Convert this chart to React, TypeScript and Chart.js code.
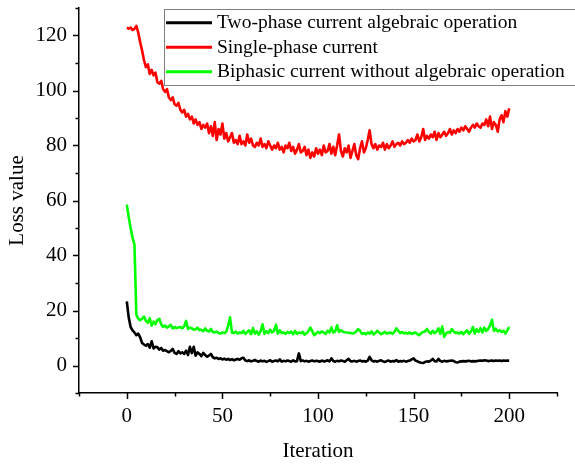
import React, { useEffect, useRef } from "react";
import { Chart, registerables } from "chart.js";

Chart.register(...registerables);

const iterations: number[] = Array.from({ length: 201 }, (_, i) => i);

const seriesNames = [
  "Two-phase current algebraic operation",
  "Single-phase current",
  "Biphasic current without algebraic operation",
];

const seriesColors = ["#000000", "#ff0000", "#00ff00"];

const twoPhaseAlgebraic: number[] = [
  23.3, 17.5, 14, 12.8, 12, 11, 11.6, 10.2, 8.2, 7.6,
  7.2, 7.8, 6.5, 8.8, 6.2, 6.8, 6.6, 5.8, 6.4, 5.4,
  5.6, 5.2, 4.8, 5.3, 6, 4.6, 4.2, 5.2, 4.4, 4.8,
  4.2, 5.4, 3.8, 6.8, 4.5, 6.8, 3.6, 4.8, 4.2, 3.4,
  4.6, 3.8, 3.2, 3.6, 4.2, 3, 2.6, 2.8, 2.4, 2.6,
  2.2, 2.5, 2.1, 2.4, 2, 2.3, 1.9, 2.2, 2.4, 2.1,
  2.6, 2.8, 1.8, 1.6, 1.9, 1.5, 1.7, 2, 1.6, 1.4,
  1.8, 1.5, 1.7, 1.3, 1.6, 1.9, 1.4, 1.6, 1.8, 1.5,
  2.2, 1.4, 1.7, 1.5, 1.8, 1.6, 1.4, 1.9, 1.5, 1.6,
  4.4, 1.6, 1.8, 1.5, 1.7, 1.4, 1.6, 1.8, 1.5, 1.7,
  1.6, 1.4, 1.8, 1.5, 1.6, 1.9, 1.5, 2.6, 1.6, 1.4,
  1.7, 1.5, 1.8, 1.6, 1.4, 1.9, 2.4, 1.6, 1.5, 1.7,
  1.4, 1.6, 1.8, 1.5, 1.6, 1.4, 1.8, 3.1, 1.9, 1.5,
  1.6, 1.4, 1.7, 1.9, 1.5, 1.3, 1.6, 1.8, 1.4, 1.6,
  1.5, 2, 1.4, 1.6, 1.5, 1.7, 1.4, 1.6, 1.8, 2.2,
  2.6, 1.8, 1.5, 1.2, 1, 0.9, 1.3, 1.5, 1.4, 1.8,
  2.4, 1.6, 1.5, 2.4, 1.6, 1.4, 1.7, 1.5, 1.6, 1.7,
  1.8, 1.6, 1.2, 1.1, 1.4, 1.5, 1.6, 1.5, 1.6, 1.7,
  1.5, 1.6, 1.5, 1.6, 1.7, 1.8, 1.7, 1.9, 1.8, 1.6,
  1.7, 1.8, 1.6, 1.8, 1.7, 1.8, 1.6, 1.8, 1.7, 1.8,
  1.7,
];

const singlePhase: number[] = [
  122.8, 122.5, 122.9, 122, 122.4, 123.5, 121, 117.5, 114.5, 111,
  108.5, 109.5, 106, 107.5, 105.5, 106.5, 103, 102.5, 103.5, 100.5,
  99.5, 100.5, 97.5, 96.5, 97.5, 95, 94.5, 95.5, 93, 92,
  93, 90.5, 91.5, 89.5, 90.5, 88, 89.5, 87.5, 88.5, 86,
  87.5, 86.5, 88, 84.5, 87, 83.5, 88.5, 82, 86, 84,
  88, 82.5, 84.5, 81.5, 83, 84.5, 81, 82, 80.5, 83.5,
  80.5, 81.5, 80, 84, 81, 82.5, 80, 79.5, 81, 80,
  82.5, 79.5, 80.5, 79, 81.5, 80, 78.5, 80, 79, 81,
  78.5, 79.5, 77.5, 80, 79, 81, 78, 79.5, 77, 78.5,
  80.5, 77.5, 78, 79.5, 76.5, 78.5, 75.5, 77.5, 76, 79,
  77, 78.5, 76.5, 80, 77.5, 78, 80.5, 77, 79.5, 76.5,
  80, 84, 78, 76, 79, 77.5, 80, 75.5, 78, 80.5,
  76.5, 75, 79, 81.5, 77.5, 79, 82, 85.5, 80.5, 79,
  80.5, 78.5, 80, 79.5, 81, 78.5, 80.5, 79, 80, 81.5,
  79.5, 80.5, 81, 80, 81.5, 80.5, 81, 82, 81, 82.5,
  81.5, 82, 84, 81.5, 83, 86, 82, 83.5, 82.5, 84,
  83, 85, 82, 84.5, 83, 84, 85, 83.5, 84.5, 86,
  84, 85.5, 84.5, 86, 85, 86.5, 85.5, 87, 86, 85,
  86.5, 87.5, 86.5, 88, 87, 86.5, 88, 87.5, 89.5, 87,
  90.5, 86, 88.5, 87.5, 85, 89.5, 91, 88.5, 92.5, 90.5,
  93.5,
];

const biphasicNoAlgebra: number[] = [
  58.5, 54, 50, 46.5, 44, 18.5, 17, 16.5, 17, 17.8,
  16.2, 15.5, 17.2, 14.5, 16, 15, 16.5, 17, 15, 14,
  14.5, 13.8, 14.2, 14.8, 13.5, 14, 13.6, 13.8, 14, 13.5,
  14.2, 16.2, 13.3, 13.8, 13.5, 13, 13.2, 13.8, 12.8, 13,
  12.5, 13.5, 12.6, 12.4, 13.3, 12.2, 12, 12.3, 11.8, 11.6,
  12, 11.8, 12.2, 14.5, 17.5, 12, 11.8, 12.3, 11.6, 12,
  11.8, 12.6, 11.5, 12.2, 12.8, 11.4, 13.6, 11.6, 12.4, 11.2,
  12.5, 15, 11.5, 12.5, 11.8, 13, 12, 12.6, 14.8, 11.6,
  12.8, 11.8, 12, 11.5, 12.2, 11.8, 12.3, 11.4, 12.6, 11.5,
  12, 11.8, 12.2, 11.2, 11.8, 12.5, 13.8, 12.5, 11, 11.6,
  12.2, 11.8, 12.4, 12, 11.5, 12.6, 12, 13.8, 12, 12.4,
  14.6, 12.2, 12.8, 12.3, 12.1, 12, 11.9, 11.8, 11.6, 11.8,
  12.4, 13.2, 12.6, 11.5, 11.8, 11.4, 12, 11.6, 12.4, 11.3,
  11.8, 12.6, 12, 11.4, 11.8, 12.2, 11.6, 11.8, 12, 11.5,
  12.2, 13.5, 12.6, 11.8, 12.2, 11.7, 11.9, 11.6, 12, 11.5,
  11.8, 12, 11.4, 11, 11.8, 12.2, 12.4, 13.3, 12.2, 11.6,
  12.6, 11.8, 12.3, 13.5, 11.5, 14.2, 10.4, 11.6, 12.2, 11.9,
  13.2, 12.4, 11.8, 12, 11.6, 12.2, 11.4, 12.2, 12.8, 11.5,
  12.4, 14, 11.6, 13.2, 12.2, 13.6, 12, 13.8, 12.6, 13.2,
  14.6, 16.6, 12.6, 13.4, 12.4, 12.8, 12.2, 12.6, 11.6, 12.8,
  14,
];

const xTickLabels = [0, 50, 100, 150, 200];
const yTickLabels = [0, 20, 40, 60, 80, 100, 120];
const xRange = [-25, 225];
const yRange = [-10, 130];

const SERIF = "'Liberation Serif', 'Times New Roman', serif";

// Outward tick marks: long ones at labelled values, short ones halfway between.
const tickMarks = {
  id: "tickMarks",
  afterDraw(chart: any) {
    const { ctx, chartArea, scales } = chart;
    const x = scales.x;
    const y = scales.y;
    ctx.save();
    ctx.strokeStyle = "#000";
    ctx.lineWidth = 1.5;
    for (let v = xRange[0]; v <= xRange[1]; v += 25) {
      const px = Math.round(x.getPixelForValue(v)) + 0.5;
      const len = v % 50 === 0 ? 6 : 3.5;
      ctx.beginPath();
      ctx.moveTo(px, chartArea.bottom);
      ctx.lineTo(px, chartArea.bottom + len);
      ctx.stroke();
    }
    for (let v = yRange[0]; v <= yRange[1]; v += 10) {
      const py = Math.round(y.getPixelForValue(v)) + 0.5;
      const len = v % 20 === 0 ? 6 : 3.5;
      ctx.beginPath();
      ctx.moveTo(chartArea.left, py);
      ctx.lineTo(chartArea.left - len, py);
      ctx.stroke();
    }
    ctx.restore();
  },
};

// Framed legend in the top-right corner of the plot.
const boxLegend = {
  id: "boxLegend",
  afterDraw(chart: any) {
    const { ctx } = chart;
    const left = 164.5;
    const top = 9.5;
    const bottom = 85.5;
    ctx.save();
    ctx.fillStyle = "#fff";
    ctx.fillRect(left, top, 600 - left, bottom - top);
    ctx.strokeStyle = "#808080";
    ctx.lineWidth = 1;
    ctx.strokeRect(left, top, 600 - left, bottom - top);
    ctx.font = `19.5px ${SERIF}`;
    ctx.textBaseline = "middle";
    ctx.textAlign = "left";
    seriesNames.forEach((name, i) => {
      const rowY = 22.7 + i * 24.5;
      ctx.strokeStyle = seriesColors[i];
      ctx.lineWidth = 3;
      ctx.beginPath();
      ctx.moveTo(166, rowY);
      ctx.lineTo(212, rowY);
      ctx.stroke();
      ctx.fillStyle = "#000";
      ctx.fillText(name, 217, rowY + 0.5);
    });
    ctx.restore();
  },
};

export default function App() {
  const canvasRef = useRef<HTMLCanvasElement | null>(null);

  useEffect(() => {
    const canvas = canvasRef.current;
    if (!canvas) return;
    const seriesData = [twoPhaseAlgebraic, singlePhase, biphasicNoAlgebra];
    const chart = new Chart(canvas, {
      type: "line",
      data: {
        labels: iterations,
        datasets: seriesNames.map((name, i) => ({
          label: name,
          data: iterations.map((it, k) => ({ x: it, y: seriesData[i][k] })),
          borderColor: seriesColors[i],
          backgroundColor: seriesColors[i],
          borderWidth: 2.6,
          borderJoinStyle: "round" as const,
          pointRadius: 0,
          tension: 0,
          fill: false,
        })),
      },
      options: {
        responsive: false,
        animation: false,
        events: [],
        layout: { padding: { top: 8, right: 18, left: 0, bottom: 0 } },
        plugins: {
          legend: { display: false },
          tooltip: { enabled: false },
        },
        scales: {
          x: {
            type: "linear",
            min: xRange[0],
            max: xRange[1],
            afterBuildTicks: (scale: any) => {
              scale.ticks = xTickLabels.map((v) => ({ value: v }));
            },
            afterFit: (scale: any) => {
              scale.height = 72;
              scale.paddingLeft = 0;
              scale.paddingRight = 0;
            },
            grid: { display: false, drawTicks: false },
            border: { display: true, color: "#000", width: 1.5 },
            ticks: {
              color: "#000",
              padding: 11,
              maxRotation: 0,
              autoSkip: false,
              font: { family: SERIF, size: 21 },
            },
            title: {
              display: true,
              text: "Iteration",
              color: "#000",
              font: { family: SERIF, size: 21 },
              padding: { top: 0, bottom: 1 },
            },
          },
          y: {
            type: "linear",
            min: yRange[0],
            max: yRange[1],
            afterBuildTicks: (scale: any) => {
              scale.ticks = yTickLabels.map((v) => ({ value: v }));
            },
            afterFit: (scale: any) => {
              scale.width = 79;
              scale.paddingTop = 0;
              scale.paddingBottom = 0;
            },
            grid: { display: false, drawTicks: false },
            border: { display: true, color: "#000", width: 1.5 },
            ticks: {
              color: "#000",
              padding: 12,
              autoSkip: false,
              font: { family: SERIF, size: 21 },
            },
            title: {
              display: true,
              text: "Loss value",
              color: "#000",
              font: { family: SERIF, size: 21 },
              padding: { top: 5, bottom: 0 },
            },
          },
        },
      },
      plugins: [tickMarks, boxLegend],
    });
    return () => chart.destroy();
  }, []);

  return (
    <div
      style={{
        position: "absolute",
        left: 0,
        top: 0,
        width: 575,
        height: 465,
        background: "#fff",
        overflow: "hidden",
      }}
    >
      <canvas ref={canvasRef} width={575} height={465} style={{ display: "block" }} />
    </div>
  );
}
